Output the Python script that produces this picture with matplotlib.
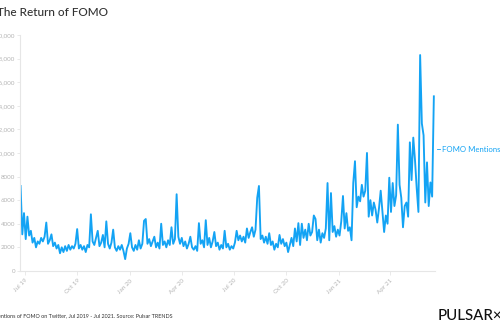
"""
The Return of FOMO - mentions of FOMO on Twitter (Pulsar TRENDS)
"""

import matplotlib
matplotlib.use('Agg')
import matplotlib.pyplot as plt
import matplotlib.ticker as mticker
import pandas as pd

# Data: one value every 3 days, starting 24 Jun 2019
start_date = '2019-06-24'
step_days = 3
mentions = [
    7200, 3100, 4900, 2700, 4600, 3000, 3400, 2400, 2800, 2000,
    2500, 2300, 2800, 2500, 2900, 4100, 2300, 2600, 3100, 2100,
    2400, 1900, 2200, 1500, 2000, 1600, 2100, 1700, 2200, 1800,
    2100, 1900, 2300, 3550, 1900, 2200, 1800, 2100, 1600, 2200,
    2000, 4800, 2500, 2200, 2800, 3400, 2100, 2400, 3050, 2000,
    4200, 2300, 1900, 2400, 3500, 2000, 1700, 2100, 1800, 2200,
    1700, 1000, 1900, 2300, 3200, 2000, 1700, 2200, 1800, 2600,
    1900, 2300, 4250, 4400, 2300, 2700, 2100, 2500, 2900, 2000,
    2400, 1900, 4000, 2200, 2500, 2000, 2600, 2200, 3700, 2300,
    2700, 6500, 2900, 2300, 2800, 2100, 2500, 1900, 2300, 2900,
    2000, 1800, 2100, 1700, 4050, 2300, 2600, 2000, 4300, 2200,
    2800, 2000, 2500, 3300, 2100, 2400, 1800, 2200, 1900, 3400,
    2000, 2300, 1800, 2100, 1900, 2400, 3400, 2600, 3000, 2500,
    2900, 2400, 3600, 2800, 3300, 3700, 2900, 3500, 6200, 7200,
    2700, 3000, 2400, 2900, 2300, 3200, 2200, 2500, 1800, 2300,
    2000, 3050, 2300, 2700, 2100, 2400, 1600, 2200, 2800, 2100,
    3600, 2500, 4050, 2200, 4000, 2800, 3500, 2600, 4000, 3000,
    3300, 4700, 4400, 2600, 3500, 2400, 3200, 2800, 3600, 7450,
    2600, 6600, 3300, 3800, 2900, 3500, 3000, 4200, 6350, 3600,
    4900, 3400, 3700, 2600, 7450, 9300, 5400, 6300, 5900, 7300,
    6300, 6800, 10000, 4600, 6000, 4700, 5800, 5200, 4100, 5300,
    6800, 5000, 3300, 4700, 4000, 7900, 5000, 7450, 5500, 6400,
    12400, 7300, 6200, 3700, 5500, 5800, 4600, 10900, 7700, 11300,
    9400, 7000, 5000, 18300, 12500, 11500, 5800, 9200, 5500, 7500,
    6300, 14800,
]

tick_dates = ['2019-07-01', '2019-10-01', '2020-01-01', '2020-04-01',
              '2020-07-01', '2020-10-01', '2021-01-01', '2021-04-01']
tick_labels = ['Jul 19', 'Oct 19', 'Jan 20', 'Apr 20',
               'Jul 20', 'Oct 20', 'Jan 21', 'Apr 21']
y_ticks = [0, 2000, 4000, 6000, 8000, 10000, 12000, 14000, 16000, 18000, 20000]

series_name = 'FOMO Mentions'
title = 'The Return of FOMO'
caption = 'Mentions of FOMO on Twitter, Jul 2019 - Jul 2021. Source: Pulsar TRENDS'

LINE = '#13a3f4'
AXIS = '#e6e6e6'
TICKTXT = '#b5b5b5'


def fmt_y(v, pos):
    v = int(v)
    return f'{v:,}' if v >= 10000 else str(v)


def plot_fomo():
    dates = pd.date_range(start_date, periods=len(mentions), freq=f'{step_days}D')

    fig = plt.figure(figsize=(5, 3.3), dpi=100)
    ax = fig.add_axes([0.04, 0.179, 0.83, 0.715])

    ax.plot(dates, mentions, color=LINE, linewidth=1.35)

    ax.set_xlim(dates[0] - pd.Timedelta(days=1), dates[-1] + pd.Timedelta(days=2))
    ax.set_ylim(0, 20000)

    ax.set_xticks(pd.to_datetime(tick_dates))
    ax.set_xticklabels(tick_labels, rotation=45, ha='right', rotation_mode='anchor',
                       fontsize=4.5, color=TICKTXT)
    ax.set_yticks(y_ticks)
    ax.yaxis.set_major_formatter(mticker.FuncFormatter(fmt_y))
    ax.tick_params(axis='y', labelsize=4.5, labelcolor=TICKTXT, color=AXIS,
                   length=2, width=0.6, pad=1.5)
    ax.tick_params(axis='x', color=AXIS, length=3, width=0.6, pad=2)

    for side in ['top', 'right']:
        ax.spines[side].set_visible(False)
    for side in ['left', 'bottom']:
        ax.spines[side].set_color(AXIS)
        ax.spines[side].set_linewidth(0.8)

    # series label on the right
    fig.lines.append(plt.Line2D([437 / 500, 440 / 500], [1 - 149 / 330] * 2,
                                transform=fig.transFigure, color=LINE, lw=0.6))
    fig.text(442 / 500, 1 - 149 / 330, series_name, color=LINE, fontsize=5.6,
             va='center', ha='left', family='Lato')

    fig.text(-3 / 500, 1 - 13 / 330, title, fontsize=8.5, color='#333333',
             va='center', ha='left', family='Lato', fontweight='medium')
    fig.text(-7 / 500, 1 - 316 / 330, caption, fontsize=3.9, color='#333333',
             va='center', ha='left', family='Lato')
    fig.text(438 / 500, 1 - 316 / 330, 'PULSAR\u00d7', fontsize=10.8, color='#111111',
             va='center', ha='left', family='Lato', fontweight='medium')

    fig.savefig('out.png', dpi=100, facecolor='white')


if __name__ == '__main__':
    plt.rcParams['font.family'] = ['Lato', 'DejaVu Sans']
    plt.rcParams['figure.facecolor'] = 'white'
    plot_fomo()
